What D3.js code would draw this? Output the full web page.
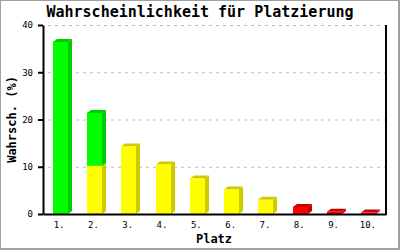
<!DOCTYPE html>
<html><head><meta charset="utf-8">
<script src="https://cdn.jsdelivr.net/npm/d3@7"></script>
<style>body{margin:0;background:#fff}svg{display:block}</style>
</head><body>
<script>
const categories = ["1.","2.","3.","4.","5.","6.","7.","8.","9.","10."];
const yellowValues = [0, 10.2, 14.3, 10.5, 7.5, 5.2, 3.0, 0, 0, 0];
const greenValues  = [36.4, 11.2, 0, 0, 0, 0, 0, 0, 0, 0];
const redValues    = [0, 0, 0, 0, 0, 0, 0, 1.5, 0.45, 0.3];
const yTicks = [0, 10, 20, 30, 40];
const chartTitle = "Wahrscheinlichkeit für Platzierung";
const xTitle = "Platz";
const yTitle = "Wahrsch. (%)";

(function(){
const W = 400, H = 250;
const mLeft = 43, mRight = 386, mTop = 25, mBottom = 214;
const svg = d3.select("body").append("svg").attr("width", W).attr("height", H);
svg.append("rect").attr("x",0).attr("y",0).attr("width",W).attr("height",H).attr("fill","#fff");
// frame
svg.append("rect").attr("x",0.5).attr("y",0.5).attr("width",W-2).attr("height",H-2)
  .attr("fill","none").attr("stroke","#a0a0a0").attr("stroke-width",1);
svg.append("line").attr("x1",W-1).attr("x2",W-1).attr("y1",0).attr("y2",H).attr("stroke","#a0a0a0").attr("stroke-width",2);
svg.append("line").attr("x1",0).attr("x2",W).attr("y1",H-1).attr("y2",H-1).attr("stroke","#a0a0a0").attr("stroke-width",2);

const font = "'DejaVu Sans Mono', 'Liberation Mono', monospace";
const x = d3.scaleBand().domain(categories).range([mLeft, mRight]).paddingInner(0.563).paddingOuter(0.28);
const y = d3.scaleLinear().domain([0, 40]).range([mBottom, mTop]);

// grid
svg.append("g").selectAll("line").data(yTicks.filter(t => t > 0)).join("line")
  .attr("x1", mLeft + 5).attr("x2", mRight).attr("y1", d => y(d) + 0.5).attr("y2", d => y(d) + 0.5)
  .attr("stroke", "#bbbbbb").attr("stroke-width", 1).attr("stroke-dasharray", "3,4");

// bars
const dx = 4, dy = 3;
const series = [
  {vals: yellowValues, base: null, front: "#ffff00", side: "#cccc00"},
  {vals: greenValues, base: yellowValues, front: "#00ff00", side: "#00cc00"},
  {vals: redValues, base: null, front: "#ff0000", side: "#cc0000"}
];
const gBars = svg.append("g");
series.forEach(s => {
  categories.forEach((c, i) => {
    const v = s.vals[i];
    if (!v) return;
    const b0 = s.base ? s.base[i] : 0;
    const x0 = Math.round(x(c)), w = Math.round(x.bandwidth());
    const yTop = y(b0 + v), yBot = y(b0);
    gBars.append("path").attr("fill", s.side)
      .attr("d", `M${x0+w},${yBot}L${x0+w+dx},${yBot-dy}L${x0+w+dx},${yTop-dy}L${x0+w},${yTop}Z`);
    gBars.append("path").attr("fill", s.side)
      .attr("d", `M${x0},${yTop}L${x0+dx},${yTop-dy}L${x0+w+dx},${yTop-dy}L${x0+w},${yTop}Z`);
    gBars.append("rect").attr("x", x0).attr("y", yTop).attr("width", w).attr("height", yBot - yTop).attr("fill", s.front);
  });
});

// axes
const yAxis = svg.append("g").attr("transform", `translate(${mLeft},0)`)
  .call(d3.axisLeft(y).tickValues(yTicks).tickSize(5).tickSizeOuter(0).tickPadding(5));
yAxis.select(".domain").attr("stroke-width", 2);
yAxis.selectAll(".tick line").attr("stroke-width", 2);
yAxis.selectAll("text").attr("font-family", font).attr("font-size", 9).attr("fill", "#000");

const xAxis = svg.append("g").attr("transform", `translate(0,${mBottom})`)
  .call(d3.axisBottom(x).tickSize(0).tickSizeOuter(0).tickPadding(8));
xAxis.select(".domain").attr("stroke-width", 2);
xAxis.selectAll("text").attr("font-family", font).attr("font-size", 9).attr("fill", "#000")
  .attr("dx", -1);

svg.append("line").attr("x1", mRight).attr("x2", mRight).attr("y1", mTop).attr("y2", mBottom + 1)
  .attr("stroke", "#000").attr("stroke-width", 2);

// titles
svg.append("text").attr("x", 200).attr("y", 17).attr("text-anchor", "middle")
  .attr("font-family", font).attr("font-weight", "bold").attr("font-size", 15).text(chartTitle);
svg.append("text").attr("x", 214).attr("y", 243).attr("text-anchor", "middle")
  .attr("font-family", font).attr("font-weight", "bold").attr("font-size", 12).text(xTitle);
svg.append("text").attr("transform", `translate(16,${(mTop+mBottom)/2}) rotate(-90)`).attr("text-anchor", "middle")
  .attr("font-family", font).attr("font-weight", "bold").attr("font-size", 12).text(yTitle);
})();
</script>
</body></html>
